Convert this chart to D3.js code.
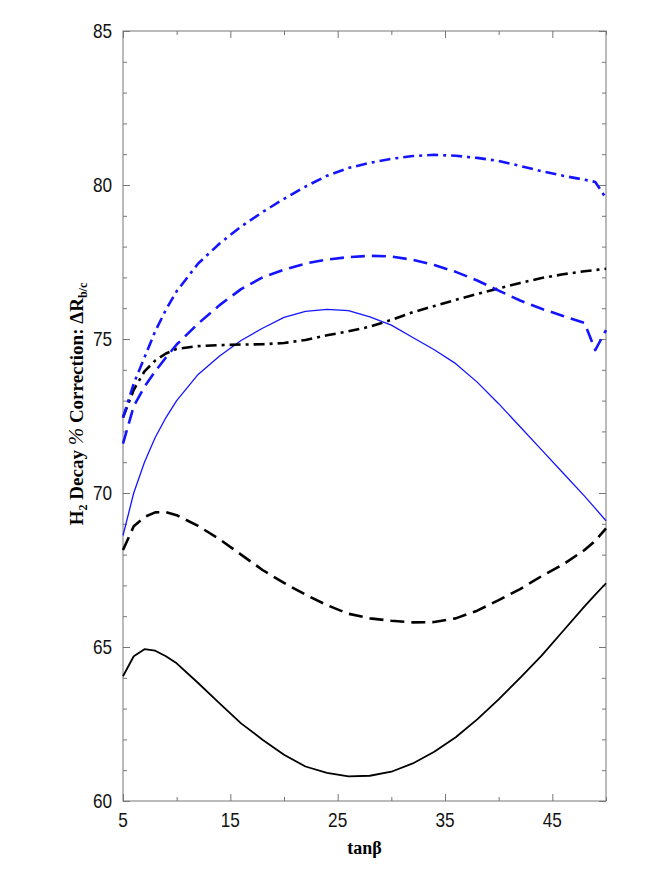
<!DOCTYPE html>
<html>
<head>
<meta charset="utf-8">
<script src="https://cdn.jsdelivr.net/npm/d3@7/dist/d3.min.js"></script>
<style>
  html, body { margin: 0; padding: 0; background: #fff; }
  svg { display: block; }
</style>
</head>
<body>
<svg id="chart"></svg>
<script>
// tanβ grid shared by every curve
const tanBeta = [5,6,7,8,9,10,12,14,16,18,20,22,24,26,28,30,32,34,36,38,40,42,44,46,48,49,50];

const blackSolid = [64.05,64.70,64.93,64.88,64.70,64.47,63.83,63.17,62.52,61.99,61.50,61.12,60.91,60.80,60.82,60.95,61.22,61.60,62.07,62.65,63.30,64.00,64.72,65.52,66.32,66.70,67.07];
const blackDashed = [68.15,68.92,69.22,69.37,69.38,69.28,68.93,68.50,68.00,67.50,67.08,66.70,66.36,66.08,65.93,65.85,65.80,65.81,65.93,66.18,66.52,66.88,67.30,67.68,68.15,68.45,68.85];
const blueSolid = [68.62,70.00,71.00,71.80,72.45,73.00,73.85,74.45,74.95,75.35,75.70,75.90,75.96,75.92,75.72,75.45,75.05,74.65,74.20,73.60,72.90,72.15,71.40,70.65,69.90,69.50,69.10];
const blackDashDot = [72.45,73.35,73.95,74.30,74.53,74.68,74.77,74.80,74.82,74.83,74.87,74.97,75.12,75.25,75.40,75.62,75.87,76.07,76.27,76.46,76.64,76.82,76.98,77.10,77.20,77.24,77.28];
const blueDashed = [71.60,72.82,73.45,73.95,74.40,74.82,75.50,76.10,76.62,77.00,77.25,77.45,77.58,77.66,77.70,77.68,77.57,77.40,77.18,76.90,76.57,76.25,75.98,75.75,75.52,74.64,75.29];
const blueDashDot = [72.45,73.55,74.40,75.25,75.95,76.55,77.45,78.10,78.65,79.12,79.55,79.95,80.30,80.55,80.72,80.85,80.94,80.98,80.95,80.88,80.78,80.62,80.45,80.30,80.17,80.10,79.57];

const xTickLabels = [5, 15, 25, 35, 45];
const yTickLabels = [60, 65, 70, 75, 80, 85];

const W = 654, H = 872;
const margin = { left: 123, right: 48, top: 31, bottom: 71 };

const svg = d3.select('#chart').attr('width', W).attr('height', H);

const x = d3.scaleLinear().domain([5, 50]).range([margin.left, W - margin.right]);
const y = d3.scaleLinear().domain([60, 85]).range([H - margin.bottom, margin.top]);

const axisColor = '#777';
const tickFont = '"Liberation Sans", Arial, sans-serif';

// ---- frame + inward ticks ----
const g = svg.append('g');

function tickAxis(axisFn, scale, transform, values, size) {
  g.append('g')
    .attr('transform', transform)
    .call(axisFn(scale).tickValues(values).tickSize(size).tickFormat(''))
    .call(a => a.select('.domain').remove())
    .call(a => a.selectAll('line').attr('stroke', axisColor));
}

const xMinor = d3.range(10, 51, 10);
const yMinor = d3.range(60, 86, 1).filter(v => v % 5 !== 0);

// bottom
tickAxis(d3.axisTop, x, `translate(0,${y(60)})`, xTickLabels, 7);
tickAxis(d3.axisTop, x, `translate(0,${y(60)})`, xMinor, 4);
// top
tickAxis(d3.axisBottom, x, `translate(0,${y(85)})`, xTickLabels, 7);
tickAxis(d3.axisBottom, x, `translate(0,${y(85)})`, xMinor, 4);
// left
tickAxis(d3.axisRight, y, `translate(${x(5)},0)`, yTickLabels, 7);
tickAxis(d3.axisRight, y, `translate(${x(5)},0)`, yMinor, 4);
// right
tickAxis(d3.axisLeft, y, `translate(${x(50)},0)`, yTickLabels, 7);
tickAxis(d3.axisLeft, y, `translate(${x(50)},0)`, yMinor, 4);

g.append('rect')
  .attr('x', x(5)).attr('y', y(85))
  .attr('width', x(50) - x(5)).attr('height', y(60) - y(85))
  .attr('fill', 'none').attr('stroke', axisColor).attr('stroke-width', 1);

// tick labels (narrowed Helvetica look)
g.selectAll('.xlab').data(xTickLabels).enter().append('text')
  .attr('transform', d => `translate(${x(d)},${y(60) + 26}) scale(0.86,1)`)
  .attr('text-anchor', 'middle')
  .style('font-family', tickFont).style('font-size', '20px').style('fill', '#111')
  .text(d => d);

g.selectAll('.ylab').data(yTickLabels).enter().append('text')
  .attr('transform', d => `translate(${x(5) - 11},${y(d) + 7}) scale(0.86,1)`)
  .attr('text-anchor', 'end')
  .style('font-family', tickFont).style('font-size', '20px').style('fill', '#111')
  .text(d => d);

// ---- curves ----
const series = [
  { values: blackSolid,   color: '#000', width: 1.8, dash: null },
  { values: blackDashed,  color: '#000', width: 2.6, dash: '14,7' },
  { values: blueSolid,    color: '#1414ff', width: 1.3, dash: null },
  { values: blackDashDot, color: '#000', width: 2.6, dash: '11,5,3,5' },
  { values: blueDashed,   color: '#1414ff', width: 2.6, dash: '14,7' },
  { values: blueDashDot,  color: '#1414ff', width: 2.6, dash: '11,5,3,5' }
];

const line = d3.line()
  .x((d, i) => x(tanBeta[i]))
  .y(d => y(d));

series.forEach(s => {
  svg.append('path')
    .datum(s.values)
    .attr('d', line)
    .attr('fill', 'none')
    .attr('stroke', s.color)
    .attr('stroke-width', s.width)
    .attr('stroke-dasharray', s.dash)
    .attr('stroke-linejoin', 'round');
});

// ---- axis titles ----
const serif = '"Liberation Serif", "Times New Roman", serif';

svg.append('text')
  .attr('x', (x(5) + x(50)) / 2).attr('y', 854)
  .attr('text-anchor', 'middle')
  .style('font-family', serif).style('font-size', '18px').style('font-weight', 'bold')
  .text('tanβ');

const yTitle = svg.append('text')
  .attr('transform', `translate(83,404) rotate(-90)`)
  .attr('text-anchor', 'middle')
  .style('font-family', serif).style('font-size', '19px').style('font-weight', 'bold');
yTitle.append('tspan').text('H');
yTitle.append('tspan').attr('dy', 4).style('font-size', '12px').text('2');
yTitle.append('tspan').attr('dy', -4).text(' Decay ');
yTitle.append('tspan').style('font-style', 'italic').style('font-weight', 'normal').style('font-size', '21px').text('%');
yTitle.append('tspan').text(' Correction:  \u0394R');
yTitle.append('tspan').attr('dy', 4).style('font-size', '12px').text('b/c');
</script>
</body>
</html>
